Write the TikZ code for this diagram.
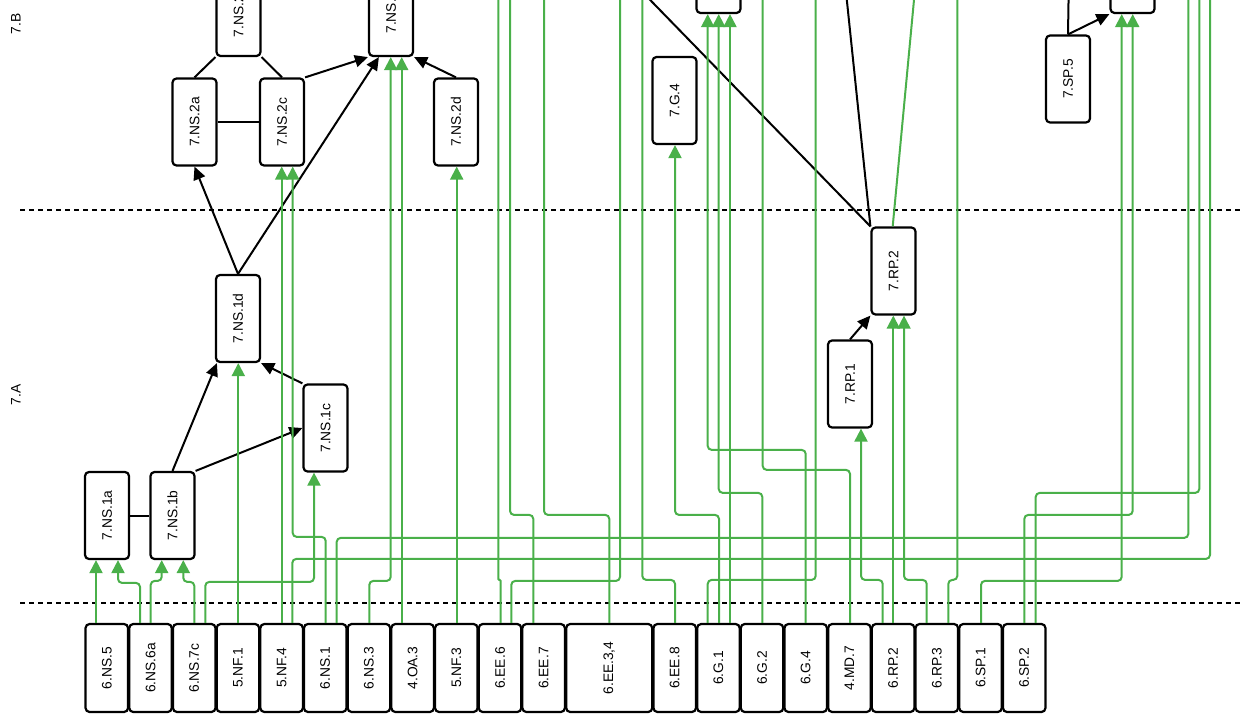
\documentclass[tikz,border=0pt]{standalone}
\usepackage{fontspec}
\setmainfont{Liberation Sans}
\usetikzlibrary{arrows.meta}
\definecolor{gcol}{RGB}{74,176,74}
\begin{document}
\begin{tikzpicture}[x=1pt,y=-1pt,
  ubox/.style={draw,line width=2.2pt,rounded corners=4pt,minimum width=44pt,minimum height=87pt,inner sep=0pt,font=\fontsize{13.8}{16}\selectfont},
  lbox/.style={ubox,minimum width=42.5pt,minimum height=88pt},
  grn/.style={draw=gcol,line width=2pt,rounded corners=4pt,-{Triangle[length=13pt,width=13pt]}},
  grnline/.style={draw=gcol,line width=2pt},
  blk/.style={draw=black,line width=2pt,-{Triangle[length=13pt,width=12pt]}},
  blkline/.style={draw=black,line width=2pt},
  levelsep/.style={draw=black,line width=2pt,dash pattern=on 5pt off 4pt},
  lvllabel/.style={inner sep=0pt,font=\fontsize{13.8}{16}\selectfont}]
\clip (0,0) rectangle (1241,719);
\fill[white] (0,0) rectangle (1241,719);

% level separators
\coordinate (sepAl) at (20,210); \coordinate (sepAr) at (1245,210);
\coordinate (sepBl) at (20,603); \coordinate (sepBr) at (1245,603);
\draw[levelsep] (sepAl) -- (sepAr);
\draw[levelsep] (sepBl) -- (sepBr);
\node[lvllabel] (lB) at (16,24) {\rotatebox{90}{7.B}};
\node[lvllabel] (lA) at (16,395) {\rotatebox{90}{7.A}};

% bottom row
\node[lbox] (s6ns5) at (106.8,668) {\rotatebox{90}{6.NS.5}};
\node[lbox] (s6ns6a) at (150.5,668) {\rotatebox{90}{6.NS.6a}};
\node[lbox] (s6ns7c) at (194.2,668) {\rotatebox{90}{6.NS.7c}};
\node[lbox] (s5nf1) at (237.9,668) {\rotatebox{90}{5.NF.1}};
\node[lbox] (s5nf4) at (281.6,668) {\rotatebox{90}{5.NF.4}};
\node[lbox] (s6ns1) at (325.2,668) {\rotatebox{90}{6.NS.1}};
\node[lbox] (s6ns3) at (368.9,668) {\rotatebox{90}{6.NS.3}};
\node[lbox] (s4oa3) at (412.6,668) {\rotatebox{90}{4.OA.3}};
\node[lbox] (s5nf3) at (456.3,668) {\rotatebox{90}{5.NF.3}};
\node[lbox] (s6ee6) at (500.0,668) {\rotatebox{90}{6.EE.6}};
\node[lbox] (s6ee7) at (543.6,668) {\rotatebox{90}{6.EE.7}};
\node[lbox,minimum width=86pt] (s6ee34) at (609.2,668) {\rotatebox{90}{6.EE.3,4}};
\node[lbox] (s6ee8) at (674.7,668) {\rotatebox{90}{6.EE.8}};
\node[lbox] (s6g1) at (718.4,668) {\rotatebox{90}{6.G.1}};
\node[lbox] (s6g2) at (762.0,668) {\rotatebox{90}{6.G.2}};
\node[lbox] (s6g4) at (805.7,668) {\rotatebox{90}{6.G.4}};
\node[lbox] (s4md7) at (849.4,668) {\rotatebox{90}{4.MD.7}};
\node[lbox] (s6rp2) at (893.1,668) {\rotatebox{90}{6.RP.2}};
\node[lbox] (s6rp3) at (936.8,668) {\rotatebox{90}{6.RP.3}};
\node[lbox] (s6sp1) at (980.5,668) {\rotatebox{90}{6.SP.1}};
\node[lbox] (s6sp2) at (1024.2,668) {\rotatebox{90}{6.SP.2}};

% upper nodes
\node[ubox] (ns1a) at (107,515.5) {\rotatebox{90}{7.NS.1a}};
\node[ubox] (ns1b) at (172.5,515.5) {\rotatebox{90}{7.NS.1b}};
\node[ubox] (ns1c) at (325.5,428) {\rotatebox{90}{7.NS.1c}};
\node[ubox] (ns1d) at (238,318.5) {\rotatebox{90}{7.NS.1d}};
\node[ubox] (ns2a) at (194.5,122) {\rotatebox{90}{7.NS.2a}};
\node[ubox] (ns2c) at (282,122) {\rotatebox{90}{7.NS.2c}};
\node[ubox] (ns2d) at (456,122) {\rotatebox{90}{7.NS.2d}};
\node[ubox] (ns2b) at (238.5,12.5) {\rotatebox{90}{7.NS.2b}};
\node[ubox] (ns3) at (391,12.5) {\rotatebox{90}{7.NS.3}};
\node[ubox] (g4) at (674.5,100.5) {\rotatebox{90}{7.G.4}};
\node[ubox] (gtop) at (718.5,-30.5) {};
\node[ubox] (rp1) at (850,384) {\rotatebox{90}{7.RP.1}};
\node[ubox] (rp2) at (893.5,271) {\rotatebox{90}{7.RP.2}};
\node[ubox] (sp5) at (1068,79) {\rotatebox{90}{7.SP.5}};
\node[ubox] (sptop) at (1132.5,-30.5) {};

% off-picture ends
\coordinate (o1) at (498.3,-30);
\coordinate (o2) at (510,-30);
\coordinate (o3) at (544,-30);
\coordinate (o4) at (620,-30);
\coordinate (o5) at (642.3,-30);
\coordinate (o6) at (762.7,-30);
\coordinate (o7) at (815.7,-30);
\coordinate (o8) at (957.3,-30);
\coordinate (or1) at (1188.3,-30);
\coordinate (or2) at (1199.3,-30);
\coordinate (or3) at (1210,-30);
\coordinate (k1) at (621,-30);
\coordinate (k2) at (843.7,-30);
\coordinate (k3) at (1069,-30);
\coordinate (gr1) at (916.8,-30);

% black connectors
\draw[blkline] (ns1a.east) -- (ns1b.west);
\draw[blkline] (ns2a.east) -- (ns2c.west);
\draw[blkline] (ns2a.north) -- (ns2b.south west);
\draw[blkline] (ns2c.north) -- (ns2b.south east);
\draw[blk] (ns1b.north) -- ([xshift=2pt]ns1d.south west);
\draw[blk] (ns1b.north east) -- (ns1c.west);
\draw[blk] (ns1c.north west) -- (ns1d.south east);
\draw[blk] (ns1d.north) -- (ns2a.south);
\draw[blk] (ns1d.north) -- ([xshift=11pt]ns3.south west);
\draw[blk] (ns2c.north east) -- (ns3.south west);
\draw[blk] (ns2d.north) -- (ns3.south east);
\draw[blk] (rp1.north) -- (rp2.south west);
\draw[blkline] (rp2.north west) -- (k1);
\draw[blkline] (rp2.north west) -- (k2);
\draw[blk] (sp5.north) -- (sptop.south west);
\draw[blkline] (sp5.north) -- (k3);
\draw[grnline] ([xshift=-0.8pt]rp2.north) -- (gr1);

% green connectors
\draw[grn] ([xshift=-10.8pt]s6ns5.north) -- ([xshift=-10.8pt]s6ns5.north |- ns1a.south);
\draw[grn] ([xshift=-10.5pt]s6ns6a.north) -- ++(0,-40) -| ([xshift=11pt]ns1a.south);
\draw[grn] ([xshift=0.2pt]s6ns6a.north) -- ++(0,-42) -| ([xshift=-10.8pt]ns1b.south);
\draw[grn] ([xshift=0.1pt]s6ns7c.north) -- ++(0,-41) -| ([xshift=10.8pt]ns1b.south);
\draw[grn] ([xshift=11.1pt]s6ns7c.north) -- ++(0,-41) -| ([xshift=-11.5pt]ns1c.south);
\draw[grn] ([xshift=0.4pt]s5nf1.north) -- ([xshift=0.4pt]s5nf1.north |- ns1d.south);
\draw[grn] ([xshift=0.1pt]s5nf4.north) -- ([xshift=0.1pt]s5nf4.north |- ns2c.south);
\draw[grn] ([xshift=0.5pt]s6ns1.north) -- ++(0,-86) -| ([xshift=10.7pt]ns2c.south);
\draw[grn] ([xshift=10.7pt]s5nf4.north) -- ++(0,-64) -| (or3);
\draw[grn] ([xshift=11.5pt]s6ns1.north) -- ++(0,-85) -| (or1);
\draw[grn] ([xshift=0.4pt]s6ns3.north) -- ++(0,-42) -| ([xshift=-0.3pt]ns3.south);
\draw[grn] ([xshift=-10.9pt]s4oa3.north) -- ([xshift=-10.9pt]s4oa3.north |- ns3.south);
\draw[grn] ([xshift=0.4pt]s5nf3.north) -- ([xshift=0.4pt]s5nf3.north |- ns2d.south);
\draw[grn,rounded corners=1pt] ([xshift=0.7pt]s6ee6.north) -- ++(0,-43) -| (o1);
\draw[grn] ([xshift=11.3pt]s6ee6.north) -- ++(0,-42) -| (o4);
\draw[grn] ([xshift=-10.3pt]s6ee7.north) -- ++(0,-108) -| (o2);
\draw[grn] ([xshift=0.1pt]s6ee34.north) -- ++(0,-108) -| (o3);
\draw[grn] ([xshift=0.3pt]s6ee8.north) -- ++(0,-43) -| (o5);
\draw[grn] ([xshift=0.6pt]s6g1.north) -- ++(0,-108) -| ([xshift=0.5pt]g4.south);
\draw[grn] ([xshift=11.6pt]s6g1.north) -- ([xshift=11.6pt]s6g1.north |- gtop.south);
\draw[grn] ([xshift=-10.7pt]s6g1.north) -- ++(0,-43) -| (o7);
\draw[grn] ([xshift=0.3pt]s6g2.north) -- ++(0,-130) -| ([xshift=0.2pt]gtop.south);
\draw[grn] (s6g4.north) -- ++(0,-173) -| ([xshift=-10.8pt]gtop.south);
\draw[grn] ([xshift=0.6pt]s4md7.north) -- ++(0,-153) -| (o6);
\draw[grn] ([xshift=-10.4pt]s6rp2.north) -- ++(0,-43) -| ([xshift=11pt]rp1.south);
\draw[grn] ([xshift=0.2pt]s6rp2.north) -- ([xshift=0.2pt]s6rp2.north |- rp2.south);
\draw[grn] ([xshift=-10.1pt]s6rp3.north) -- ++(0,-43) -| ([xshift=10.5pt]rp2.south);
\draw[grn] ([xshift=11.5pt]s6rp3.north) -- ++(0,-43) -| (o8);
\draw[grn] ([xshift=0.5pt]s6sp1.north) -- ++(0,-42) -| ([xshift=-10.8pt]sptop.south);
\draw[grn] ([xshift=0.1pt]s6sp2.north) -- ++(0,-108) -| ([xshift=0.2pt]sptop.south);
\draw[grn] ([xshift=11.5pt]s6sp2.north) -- ++(0,-130) -| (or2);
\end{tikzpicture}
\end{document}
